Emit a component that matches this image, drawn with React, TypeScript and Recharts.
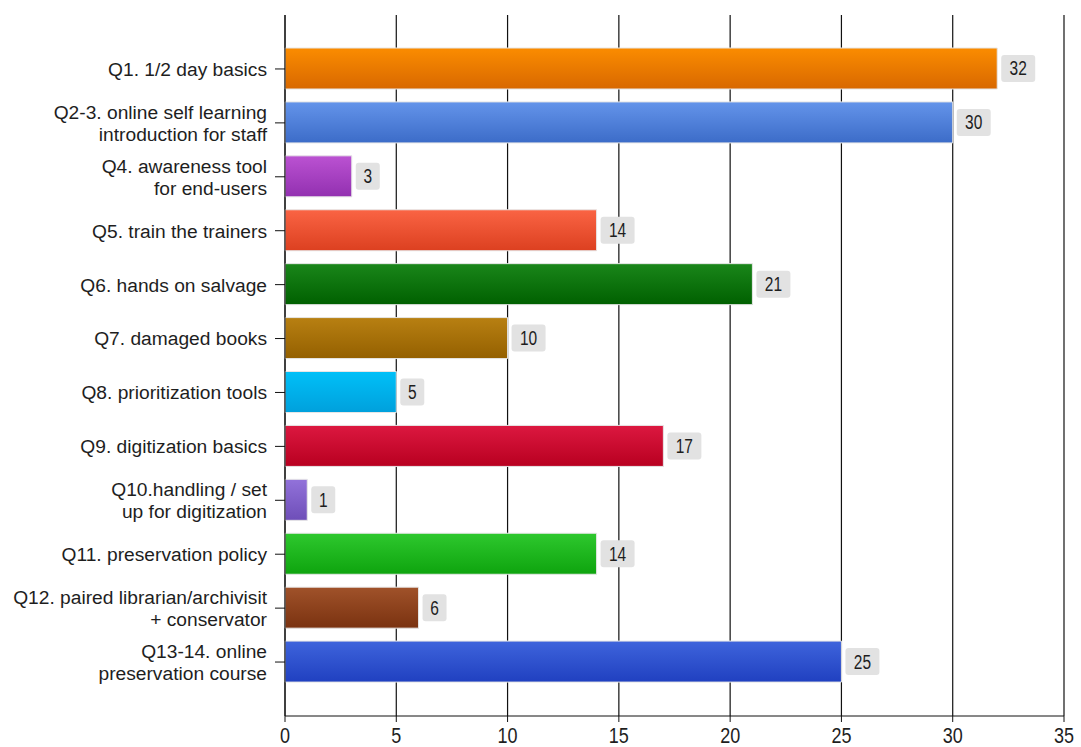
import React from "react";
import { BarChart, Bar, XAxis, YAxis, CartesianGrid, Cell, LabelList } from "recharts";

const categories = [
  "Q1. 1/2 day basics",
  "Q2-3. online self learning\nintroduction for staff",
  "Q4. awareness tool\nfor end-users",
  "Q5. train the trainers",
  "Q6. hands on salvage",
  "Q7. damaged books",
  "Q8. prioritization tools",
  "Q9. digitization basics",
  "Q10.handling / set\nup for digitization",
  "Q11. preservation policy",
  "Q12. paired librarian/archivisit\n+ conservator",
  "Q13-14. online\npreservation course",
];
const values = [32, 30, 3, 14, 21, 10, 5, 17, 1, 14, 6, 25];
const xTicks = [0, 5, 10, 15, 20, 25, 30, 35];
const topColors = ["#fb8c00", "#6494ea", "#bb52d2", "#fa6444", "#1a861a", "#b88012", "#00c0f8", "#dc1840", "#9272da", "#2ec82e", "#a0522a", "#3e64dc"];
const bottomColors = ["#d86800", "#3c6cc8", "#9230b0", "#dc4020", "#006000", "#946000", "#00a0dc", "#b80020", "#6e4eb8", "#0ea40e", "#7a3210", "#2040c0"];

const data = categories.map((c, i) => ({ name: c, value: values[i] }));

const FONT = "'Liberation Sans', Arial, sans-serif";

const YTick = (props: any) => {
  const { x, y, payload } = props;
  const lines = String(payload.value).split("\n");
  const lh = 22;
  const start = -((lines.length - 1) * lh) / 2;
  return (
    <g transform={`translate(${x},${y})`}>
      {lines.map((l, i) => (
        <text key={i} x={0} y={start + i * lh} dy="0.36em" textAnchor="end" fontSize={19.2} fontFamily={FONT} fill="#1e1e1e">
          {l}
        </text>
      ))}
    </g>
  );
};

const XTick = (props: any) => {
  const { x, y, payload } = props;
  return (
    <g transform={`translate(${x},${y + 11}) scale(1,1.25)`}>
      <text x={0} y={0} dy="0.36em" textAnchor="middle" fontSize={18} fontFamily={FONT} fill="#1e1e1e">
        {payload.value}
      </text>
    </g>
  );
};

const ValueLabel = (props: any) => {
  const { x, y, width, height, value } = props;
  const s = String(value);
  const w = 14 + 10 * s.length;
  const h = 27;
  const bx = x + width + 4;
  const by = y + height / 2 - h / 2;
  return (
    <g>
      <rect x={bx} y={by} width={w} height={h} rx={3} ry={3} fill="#e2e2e2" />
      <g transform={`translate(${bx + w / 2},${by + h / 2}) scale(1,1.25)`}>
        <text x={0} y={0} dy="0.36em" textAnchor="middle" fontSize={15.5} fontFamily={FONT} fill="#1e1e1e">
          {s}
        </text>
      </g>
    </g>
  );
};

export default function App() {
  return (
    <div style={{ position: "fixed", left: 0, top: 0, width: 1081, height: 747, background: "#fff" }}>
      <BarChart
        width={1081}
        height={747}
        data={data}
        layout="vertical"
        margin={{ top: 15, right: 17, bottom: 0, left: 0 }}
      >
        <defs>
          {values.map((_, i) => (
            <linearGradient key={i} id={`g${i}`} x1="0" y1="0" x2="0" y2="1">
              <stop offset="0%" stopColor={topColors[i]} />
              <stop offset="100%" stopColor={bottomColors[i]} />
            </linearGradient>
          ))}
        </defs>
        <CartesianGrid horizontal={false} vertical={true} stroke="#111" strokeWidth={1.2} />
        <XAxis
          type="number"
          domain={[0, 35]}
          ticks={xTicks}
          height={31}
          tickSize={6}
          tickLine={{ stroke: "#111" }}
          axisLine={{ stroke: "#111" }}
          tick={<XTick />}
          interval={0}
        />
        <YAxis
          type="category"
          dataKey="name"
          width={285}
          tickSize={10}
          tickMargin={8}
          padding={{ top: 27, bottom: 27 }}
          tickLine={{ stroke: "#111" }}
          axisLine={{ stroke: "#111" }}
          tick={<YTick />}
          interval={0}
        />
        <Bar dataKey="value" barSize={41} stroke="#e6e6e6" strokeWidth={1} isAnimationActive={false}>
          {values.map((_, i) => (
            <Cell key={i} fill={`url(#g${i})`} />
          ))}
          <LabelList dataKey="value" content={<ValueLabel />} />
        </Bar>
      </BarChart>
    </div>
  );
}
